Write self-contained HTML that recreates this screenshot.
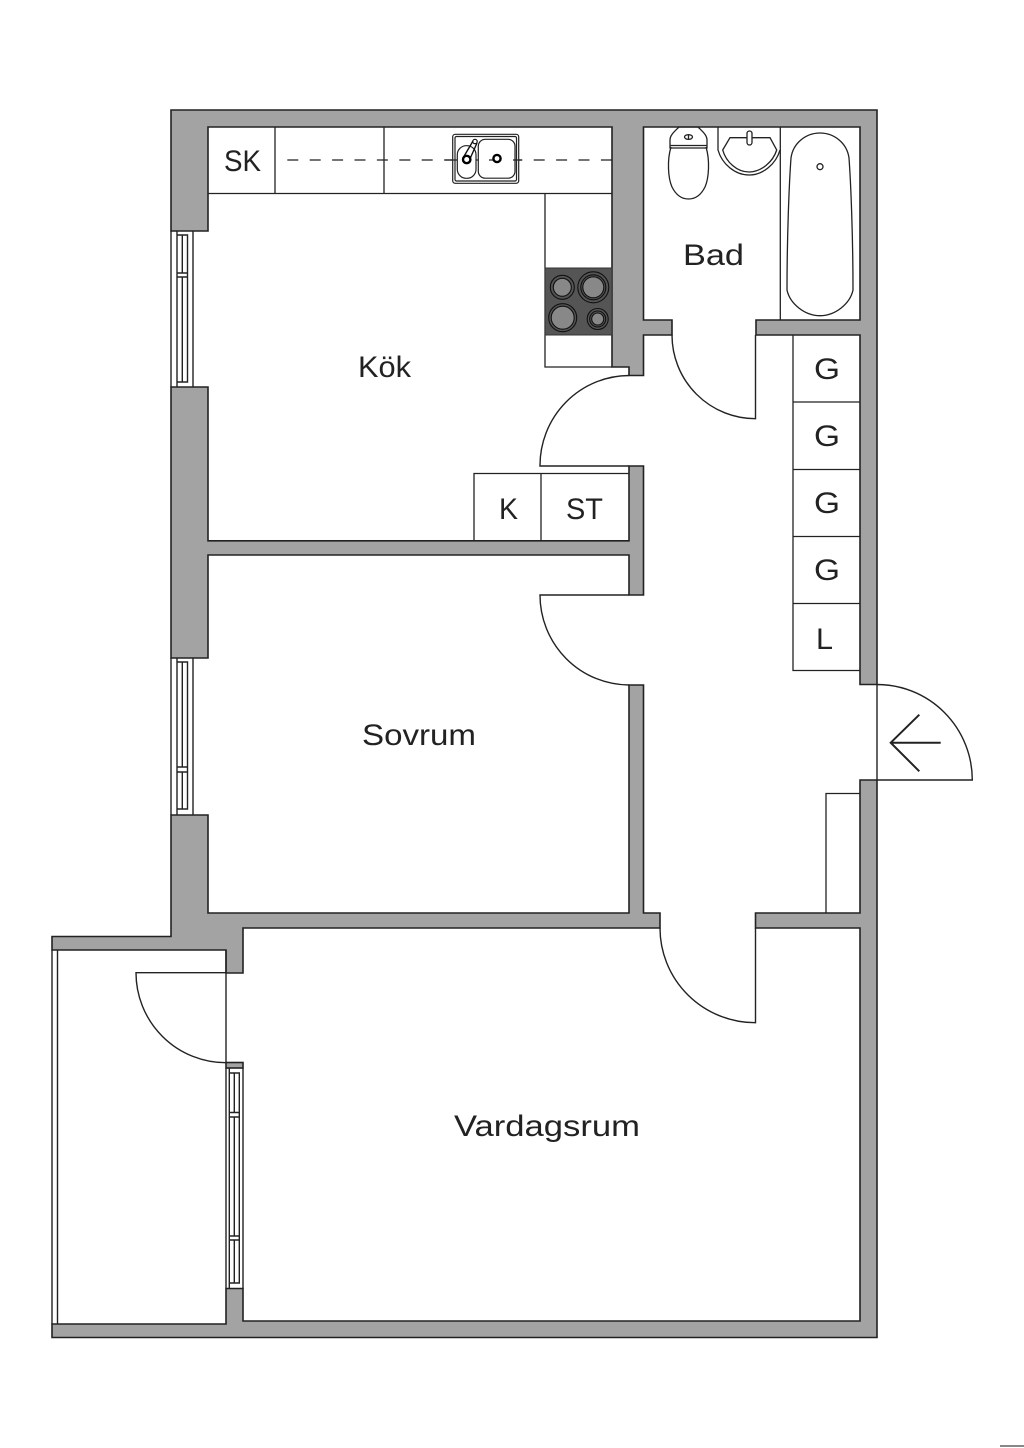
<!DOCTYPE html>
<html><head><meta charset="utf-8"><style>
html,body{margin:0;padding:0;background:#fff}
svg{display:block}
text{font-family:"Liberation Sans",sans-serif;font-size:30px;fill:#222}
.w{fill:#a3a3a3;stroke:#222;stroke-width:1.6;stroke-linejoin:miter}
.l{fill:none;stroke:#222;stroke-width:1.4}
.t{fill:none;stroke:#222;stroke-width:1.3}
</style></head><body>
<svg width="1024" height="1448" viewBox="0 0 1024 1448" xmlns="http://www.w3.org/2000/svg">
<rect width="1024" height="1448" fill="#fff"/>
<rect x="1000" y="1445" width="24" height="2" fill="#888"/>

<!-- walls -->
<path class="w" d="M171 231V110H877V684.5H860V335H756V320H860V127H643.5V320H672V335H643.5V375.5H629V367H612V127H208V231Z"/>
<path class="w" d="M171 387H208V540.8H629V466H643.5V595H629V555H208V658H171Z"/>
<path class="w" d="M171 815H208V913H629V685H643.5V913H660V928H243V973H226V950H52V936.5H171Z"/>
<path class="w" d="M877 780V1337.5H52V1324H226V1288.5H243V1321H860V928H755.5V913H860V780Z"/>
<rect class="w" x="226" y="1062.5" width="17" height="5.5"/>

<!-- balcony -->
<path class="l" d="M52 950V1324M57.5 950V1324M226 950V1062.5"/>

<!-- windows -->
<g class="l">
<path d="M171 231V387M177 231V387M193 231V387"/>
<path d="M177 235H187.5V382H177M182.3 235V273M182.3 277V382M177 273H187.5M177 277H187.5"/>
<path d="M171 658V815M177 658V815M193 658V815"/>
<path d="M177 662H187.5V809H177M182.3 662V767M182.3 772V809M177 767H187.5M177 772H187.5"/>
<path d="M226 1068V1288.5M243 1068V1288.5M229.3 1068V1288.5"/>
<path d="M229.3 1073H239.3V1283H229.3M234.3 1073V1112.5M234.3 1117V1236M234.3 1240V1283M229.3 1112.5H239.3M229.3 1117H239.3M229.3 1236H239.3M229.3 1240H239.3"/>
</g>

<!-- kitchen units -->
<g class="t">
<path d="M208 193.5H612M275 127V193.5M384 127V193.5"/>
<path d="M545 193.5V367H612"/>
<path d="M474 541V473.5H629M541 473.5V541"/>
</g>
<path d="M287.3 160H612" fill="none" stroke="#222" stroke-width="1.2" stroke-dasharray="11 11.4"/>

<!-- sink -->
<g fill="#fff" stroke="#222" stroke-width="1.2">
<rect x="452.7" y="134.3" width="66" height="49" rx="2.5"/>
<rect x="455" y="136.5" width="61.5" height="44.5" rx="1.5"/>
<rect x="457.3" y="145.7" width="18.7" height="32.6" rx="9"/>
<rect x="478.3" y="139.3" width="36.7" height="38.9" rx="7"/>
</g>
<path d="M445 160H457M476 160H478M489 160H497M513 160H522" fill="none" stroke="#222" stroke-width="1.2"/>
<path d="M463 158L473 141M469 161L477 143" fill="none" stroke="#111" stroke-width="1.4"/>
<circle cx="475" cy="141.5" r="2.2" fill="#fff" stroke="#111" stroke-width="1.2"/>
<circle cx="466.7" cy="159.5" r="3.7" fill="#fff" stroke="#000" stroke-width="2.4"/>
<circle cx="497" cy="158.5" r="3.6" fill="#fff" stroke="#000" stroke-width="2.4"/>

<!-- hob -->
<rect x="545" y="268" width="67" height="67" fill="#555" stroke="#333" stroke-width="1"/>
<g stroke="#111" stroke-width="1.1" fill="#555">
<circle cx="562.3" cy="287.3" r="12"/><circle cx="562.3" cy="287.3" r="9" fill="#888"/>
<circle cx="593.3" cy="287.3" r="15.5"/><circle cx="593.3" cy="287.3" r="12.5"/><circle cx="593.3" cy="287.3" r="10.5" fill="#888"/>
<circle cx="562.7" cy="317.7" r="14"/><circle cx="562.7" cy="317.7" r="11.5" fill="#888"/>
<circle cx="597.7" cy="319" r="10.5"/><circle cx="597.7" cy="319" r="8"/><circle cx="597.7" cy="319" r="6" fill="#888"/>
</g>

<!-- toilet -->
<g class="t">
<path d="M671 147C667 160 668 178 672 187C676 195 682 199 688.5 199C695 199 701 195 705 187C709 178 710 160 706 147"/>
<path d="M670 148V140C670 135 675 131 679 127H698C702 131 707 135 707 140V148H670ZM670 145.5H707"/>
<ellipse cx="688.5" cy="137" rx="4" ry="2.3"/>
<path d="M688.5 134.7V139.3"/>
</g>

<!-- basin -->
<g class="t">
<path d="M718 127V150C722 164 735 175 749 175C763 175 776 164 780 150"/>
<path d="M722.7 150L730 137.7H770L776.7 150C773 162 761 172 749 172C737 172 726 162 722.7 150Z"/>
<rect x="747" y="131" width="5" height="14" rx="2.5" fill="#fff"/>
</g>
<path class="t" d="M780.3 127V320"/>

<!-- bath -->
<g class="t">
<path d="M791 158C793 143 806 133 820 133C834 133 847 143 849 158C851 185 853 240 853 290C850 304 835 315.7 820 315.7C805 315.7 790 304 787 290C787 240 789 185 791 158Z"/>
<circle cx="820" cy="166.7" r="3"/>
</g>

<!-- storage -->
<path class="t" d="M793 335V670.5H860M793 402H860M793 469.5H860M793 536.5H860M793 603.5H860"/>
<path class="t" d="M860 793.5H826V913"/>

<!-- doors -->
<g class="l">
<path d="M629 466H540A89.5 90 0 0 1 629 375.5"/>
<path d="M629 595H540A89.5 90 0 0 0 629 685"/>
<path d="M755.5 335V418.7A83.5 83.7 0 0 1 672 335"/>
<path d="M755.5 928V1022.7A95.5 94.7 0 0 1 660 928"/>
<path d="M877 684.5V780H972.3A95.3 95.5 0 0 0 877 684.5"/>
<path d="M226 972.7H136A90 90 0 0 0 226 1062.7"/>
</g>
<path d="M940.7 742.7H891M919.3 714.7L890.7 742.7L919.3 771.3" fill="none" stroke="#222" stroke-width="2"/>

<!-- labels -->
<text x="224" y="171" textLength="37" lengthAdjust="spacingAndGlyphs">SK</text>
<text x="358" y="377" textLength="53" lengthAdjust="spacingAndGlyphs">Kök</text>
<text x="683" y="265" textLength="61" lengthAdjust="spacingAndGlyphs">Bad</text>
<text x="814" y="379" textLength="26" lengthAdjust="spacingAndGlyphs">G</text>
<text x="814" y="446" textLength="26" lengthAdjust="spacingAndGlyphs">G</text>
<text x="814" y="513" textLength="26" lengthAdjust="spacingAndGlyphs">G</text>
<text x="814" y="580" textLength="26" lengthAdjust="spacingAndGlyphs">G</text>
<text x="816" y="649" textLength="17" lengthAdjust="spacingAndGlyphs">L</text>
<text x="499" y="519" textLength="19" lengthAdjust="spacingAndGlyphs">K</text>
<text x="566" y="519" textLength="37" lengthAdjust="spacingAndGlyphs">ST</text>
<text x="362" y="745" textLength="114" lengthAdjust="spacingAndGlyphs">Sovrum</text>
<text x="454" y="1136" textLength="186" lengthAdjust="spacingAndGlyphs">Vardagsrum</text>
</svg>
</body></html>
